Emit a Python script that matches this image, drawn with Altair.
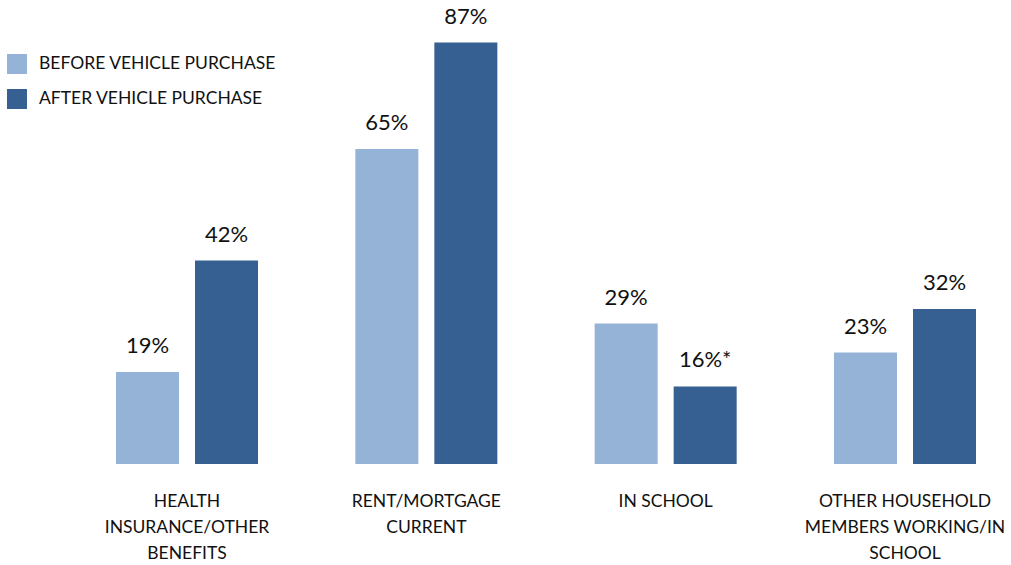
import altair as alt
import pandas as pd

categories = ["HEALTH INSURANCE/OTHER BENEFITS", "RENT/MORTGAGE CURRENT", "IN SCHOOL",
              "OTHER HOUSEHOLD MEMBERS WORKING/IN SCHOOL"]
category_lines = ["HEALTH\nINSURANCE/OTHER\nBENEFITS", "RENT/MORTGAGE\nCURRENT", "IN SCHOOL",
                  "OTHER HOUSEHOLD\nMEMBERS WORKING/IN\nSCHOOL"]
series = ["BEFORE VEHICLE PURCHASE", "AFTER VEHICLE PURCHASE"]
before = [19, 65, 29, 23]
after = [42, 87, 16, 32]
after_notes = ["", "", "*", ""]
colors = ["#95B3D7", "#366092"]

rows = []
for i, c in enumerate(categories):
    rows.append({"category": c, "series": series[0], "value": before[i], "label": f"{before[i]}%"})
    rows.append({"category": c, "series": series[1], "value": after[i], "label": f"{after[i]}%{after_notes[i]}"})
df = pd.DataFrame(rows)
cat_df = pd.DataFrame({"category": categories, "text": category_lines})

FONT = "Lato"
TEXT_COLOR = "#111111"

x = alt.X("category:N", sort=categories, axis=None,
          scale=alt.Scale(paddingInner=0.4066, paddingOuter=0))
xo = alt.XOffset("series:N", sort=series,
                 scale=alt.Scale(paddingInner=0.2025, paddingOuter=0))
y = alt.Y("value:Q", axis=None, scale=alt.Scale(domain=[0, 90], nice=False))

bars = alt.Chart(df).mark_bar().encode(
    x=x, xOffset=xo, y=y,
    color=alt.Color("series:N", sort=series,
                    scale=alt.Scale(domain=series, range=colors),
                    legend=alt.Legend(title=None, orient="none", legendX=-109, legendY=26,
                                      symbolType="square", symbolSize=400, symbolStrokeWidth=0,
                                      labelFontSize=17.5, labelFont=FONT, labelColor=TEXT_COLOR,
                                      labelOffset=12, rowPadding=15, padding=0,
                                      labelLimit=400)),
)

labels = alt.Chart(df).mark_text(baseline="alphabetic", dy=-19, fontSize=22, font=FONT,
                                 color=TEXT_COLOR).encode(
    x=x, xOffset=xo, y=y, text="label:N")

cat_labels = alt.Chart(cat_df).mark_text(baseline="top", fontSize=17.5, font=FONT, lineBreak="\n",
                                         lineHeight=26, color=TEXT_COLOR).encode(
    x=alt.X("category:N", sort=categories, axis=None,
            scale=alt.Scale(paddingInner=0.4066, paddingOuter=0)),
    y=alt.value(465), text="text:N")

chart = alt.layer(bars, labels, cat_labels).properties(
    width=860, height=436,
    autosize=alt.AutoSizeParams(type="none"),
    padding={"left": 116, "top": 28, "right": 35, "bottom": 101},
).configure_view(stroke=None)

chart.save("out.html", embed_options={"renderer": "svg", "actions": False})
